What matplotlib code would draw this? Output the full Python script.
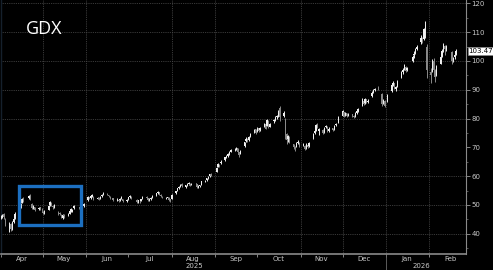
import matplotlib
matplotlib.use("Agg")
import matplotlib.pyplot as plt
import matplotlib.dates as mdates
import numpy as np
import pandas as pd
from matplotlib.patches import Rectangle
from matplotlib.transforms import blended_transform_factory

# market holidays skipped in the daily series
holidays = ["2025-04-18", "2025-05-26", "2025-06-19", "2025-07-04", "2025-09-01",
            "2025-11-27", "2025-12-25", "2026-01-01", "2026-01-19", "2026-02-16"]

# daily OHLC, one line per week
opens = [45.6, 45.8, 46.8, 45.2,
         42.0, 43.2, 41.6, 44.2, 45.5,
         48.5, 49.2, 50.8, 52.2,
         52.3, 53.4, 50.2, 49.0, 49.2,
         48.6, 49.1, 48.3, 47.6, 47.4,
         48.4, 50.0, 50.8, 49.6, 49.4,
         47.5, 47.2, 46.6, 45.5, 46.5,
         46.4, 47.0, 47.9, 48.0, 48.8,
         49.2, 49.1, 49.0, 49.5,
         51.6, 52.6, 52.5, 53.2, 52.8,
         52.2, 52.4, 52.3, 53.0, 53.8,
         53.9, 53.4, 52.9, 52.3,
         51.6, 51.8, 51.6, 52.3, 52.0,
         51.3, 52.0, 52.7, 52.8,
         51.8, 51.2, 51.4, 51.5, 52.2,
         52.9, 52.3, 51.8, 52.0, 52.6,
         53.4, 54.1, 54.4, 53.6, 52.9,
         52.3, 52.5, 52.5, 51.9, 52.2,
         54.0, 55.0, 55.7, 56.3, 57.1,
         56.3, 56.9, 57.3, 57.4, 57.0,
         57.2, 57.2, 56.2, 56.6, 57.0,
         58.1, 58.6, 59.4, 59.9, 60.8,
         61.5, 63.2, 64.0, 64.5,
         65.5, 66.8, 67.0, 67.6, 68.5,
         69.0, 69.4, 69.6, 68.2, 67.8,
         70.5, 72.2, 73.0, 72.4, 73.8,
         75.2, 76.2, 75.5, 76.6, 76.0,
         77.5, 78.2, 77.5, 79.2, 77.2,
         79.0, 79.8, 80.4, 81.0, 83.5,
         80.8, 80.0, 74.5, 72.8, 73.5,
         71.0, 70.0, 70.2, 71.4, 71.6,
         70.8, 70.6, 69.8, 70.8, 70.3,
         73.2, 74.8, 75.8, 78.0, 75.5,
         76.0, 75.2, 77.0, 77.2, 75.6,
         76.6, 76.3, 77.6, 78.5,
         81.0, 82.2, 81.2, 81.8, 81.0,
         81.4, 80.9, 80.7, 82.0, 82.7,
         84.5, 86.2, 85.3, 86.6, 85.8,
         87.8, 89.2, 89.9, 90.6,
         88.5, 85.4, 86.0, 86.0,
         89.5, 91.8, 92.2, 90.3, 91.2,
         94.5, 96.2, 97.2, 98.0, 96.8,
         100.0, 102.0, 102.8, 104.2,
         106.5, 107.8, 107.5, 111.5, 105.0,
         96.0, 96.5, 100.0, 96.5, 95.0,
         99.0, 101.8, 103.6, 105.2, 104.3,
         103.0, 100.2, 101.3, 102.4]

highs = [46.6, 47.0, 47.3, 45.5,
         44.0, 43.8, 44.5, 45.8, 47.5,
         49.8, 50.6, 52.4, 52.6,
         53.6, 53.8, 50.5, 49.9, 49.4,
         49.4, 49.3, 48.8, 47.9, 48.2,
         49.8, 51.3, 51.0, 49.9, 50.3,
         47.8, 47.6, 46.8, 46.7, 46.8,
         47.2, 48.1, 48.9, 48.6, 49.8,
         49.4, 49.3, 49.9, 50.5,
         53.1, 52.9, 53.3, 53.8, 53.0,
         52.8, 52.6, 53.1, 53.7, 54.4,
         54.1, 53.6, 53.2, 52.5,
         52.3, 52.0, 52.4, 53.0, 52.2,
         52.0, 52.9, 53.3, 53.0,
         52.0, 51.8, 51.6, 52.2, 53.1,
         53.2, 52.5, 52.5, 52.7, 53.3,
         54.3, 54.8, 54.6, 53.8, 53.1,
         52.7, 52.9, 52.7, 52.0, 53.8,
         55.0, 56.0, 56.5, 57.3, 57.5,
         57.0, 57.5, 57.9, 57.6, 57.6,
         57.7, 57.3, 56.8, 57.0, 58.4,
         58.6, 59.5, 60.0, 60.8, 61.0,
         63.0, 64.5, 64.3, 65.5,
         66.8, 67.5, 68.1, 68.6, 69.4,
         69.6, 70.2, 69.8, 68.5, 69.1,
         72.0, 73.5, 73.3, 73.8, 74.8,
         76.5, 76.4, 76.9, 76.8, 77.2,
         78.5, 78.4, 79.9, 79.4, 78.6,
         79.8, 80.9, 81.2, 82.8, 84.5,
         82.5, 80.3, 75.0, 74.3, 73.8,
         71.3, 70.6, 71.9, 72.4, 71.8,
         71.6, 70.8, 71.4, 71.2, 71.9,
         74.9, 75.9, 78.2, 78.6, 76.8,
         76.3, 77.1, 77.9, 77.4, 76.9,
         76.8, 77.8, 78.4, 80.8,
         83.0, 82.4, 82.4, 82.0, 81.9,
         81.6, 81.1, 82.1, 82.9, 83.6,
         87.0, 86.4, 87.2, 86.9, 86.6,
         89.4, 90.2, 90.6, 91.2,
         88.8, 86.6, 86.3, 88.4,
         91.9, 92.9, 92.4, 91.2, 93.2,
         96.4, 97.4, 98.9, 98.2, 97.9,
         101.9, 103.5, 104.4, 105.6,
         109.0, 108.2, 111.5, 114.0, 106.0,
         97.5, 100.5, 101.0, 97.2, 98.5,
         102.0, 104.0, 106.2, 105.6, 105.4,
         103.3, 101.4, 102.6, 104.0]

lows = [45.2, 45.5, 45.0, 42.8,
        40.5, 41.0, 41.2, 43.8, 45.2,
        47.8, 48.9, 50.5, 51.0,
        52.0, 51.6, 48.6, 48.5, 47.9,
        48.2, 48.1, 47.6, 46.8, 47.0,
        48.2, 49.7, 49.6, 48.7, 49.0,
        46.5, 46.5, 45.3, 45.2, 45.6,
        46.2, 46.8, 47.6, 47.5, 48.6,
        48.5, 48.5, 48.7, 49.2,
        51.4, 51.9, 52.2, 52.7, 51.7,
        52.0, 51.8, 52.1, 52.8, 53.5,
        53.3, 52.8, 52.0, 51.5,
        51.4, 51.1, 51.4, 52.0, 50.9,
        51.0, 51.8, 52.4, 52.1,
        50.7, 50.8, 50.8, 51.3, 52.0,
        52.2, 51.4, 51.5, 51.8, 52.4,
        53.2, 53.8, 53.5, 52.8, 52.3,
        52.0, 52.2, 51.5, 51.1, 52.0,
        53.8, 54.8, 55.4, 56.1, 56.3,
        56.0, 56.7, 57.0, 56.7, 56.8,
        56.9, 56.0, 56.0, 56.3, 56.8,
        57.8, 58.4, 59.1, 59.7, 59.9,
        61.3, 63.0, 63.2, 64.2,
        65.2, 66.4, 66.8, 67.3, 68.2,
        68.6, 69.1, 68.0, 66.8, 67.6,
        70.2, 72.0, 72.0, 72.1, 73.5,
        75.0, 74.5, 75.3, 75.4, 75.8,
        77.2, 76.2, 77.3, 76.7, 76.9,
        78.6, 79.0, 80.0, 80.6, 79.0,
        80.5, 73.0, 71.0, 72.0, 71.4,
        69.4, 68.8, 70.0, 71.0, 70.1,
        70.3, 69.0, 69.5, 69.6, 70.0,
        73.0, 74.5, 75.6, 76.6, 74.3,
        74.6, 75.0, 76.6, 75.2, 75.3,
        75.5, 76.1, 77.3, 78.3,
        80.8, 80.6, 80.9, 80.4, 80.7,
        80.6, 80.1, 80.5, 81.7, 82.4,
        84.2, 84.7, 85.1, 85.3, 85.5,
        87.5, 88.9, 89.6, 90.0,
        84.5, 85.0, 84.0, 85.8,
        89.2, 91.2, 90.1, 89.5, 91.0,
        94.2, 95.6, 96.9, 96.0, 96.4,
        99.6, 101.0, 102.4, 103.8,
        106.0, 106.2, 107.2, 108.0, 94.0,
        92.5, 96.0, 96.0, 92.8, 94.6,
        98.8, 101.2, 103.2, 102.0, 103.6,
        99.0, 99.6, 100.8, 102.0]

closes = [46.0, 46.5, 45.8, 43.5,
          42.5, 41.5, 43.5, 45.0, 47.0,
          49.5, 50.2, 52.0, 51.5,
          53.0, 52.0, 49.0, 49.5, 48.3,
          49.0, 48.5, 48.2, 47.2, 47.8,
          49.5, 51.0, 50.0, 49.2, 50.0,
          47.0, 46.8, 45.6, 46.4, 46.0,
          46.8, 47.8, 48.5, 48.2, 49.5,
          49.0, 48.8, 49.6, 50.2,
          52.8, 52.3, 53.0, 53.3, 52.0,
          52.5, 52.2, 52.9, 53.5, 54.0,
          53.6, 53.0, 52.3, 51.8,
          52.0, 51.5, 52.2, 52.8, 51.2,
          51.8, 52.6, 53.0, 52.4,
          51.0, 51.6, 51.2, 52.0, 52.8,
          52.5, 51.6, 52.2, 52.4, 53.0,
          54.0, 54.5, 53.8, 53.0, 52.6,
          52.4, 52.6, 51.8, 51.4, 53.6,
          54.8, 55.8, 56.2, 57.0, 56.6,
          56.8, 57.2, 57.6, 57.0, 57.3,
          57.4, 56.2, 56.5, 56.8, 58.2,
          58.4, 59.3, 59.8, 60.6, 60.2,
          62.8, 64.2, 63.6, 64.8,
          66.5, 67.0, 67.8, 68.3, 69.0,
          69.2, 69.8, 68.4, 67.5, 68.8,
          71.8, 73.0, 72.5, 73.5, 74.5,
          76.0, 74.8, 76.5, 75.8, 76.8,
          78.0, 76.5, 79.5, 77.0, 78.2,
          79.5, 80.2, 80.8, 82.0, 80.5,
          81.8, 74.0, 72.5, 73.8, 72.0,
          70.2, 69.8, 71.5, 72.0, 70.5,
          71.0, 69.5, 71.0, 70.0, 71.5,
          74.5, 75.5, 77.8, 77.0, 76.2,
          75.0, 76.8, 77.5, 75.5, 76.5,
          76.0, 77.5, 78.0, 80.5,
          82.5, 81.0, 82.0, 80.8, 81.5,
          81.0, 80.5, 81.8, 82.5, 83.2,
          86.5, 85.0, 86.8, 85.6, 86.2,
          89.0, 89.8, 90.2, 90.5,
          85.0, 86.2, 84.5, 88.0,
          91.5, 92.5, 90.5, 90.8, 92.8,
          96.0, 97.0, 98.5, 96.5, 97.5,
          101.5, 102.5, 104.0, 105.0,
          108.0, 107.0, 111.0, 112.5, 97.0,
          95.0, 99.5, 97.0, 94.5, 98.0,
          101.5, 103.5, 105.5, 104.0, 105.0,
          100.0, 101.0, 102.2, 103.47]

ticker = "GDX"
last_label = "103.47"
y_ticks = [40, 50, 60, 70, 80, 90, 100, 110, 120]
h_grid = [40, 50, 60, 80, 90, 100, 110, 120]
v_grid = ["2025-05-01", "2025-06-01", "2025-08-01", "2025-09-01",
          "2025-11-01", "2025-12-01", "2026-01-01", "2026-02-01"]
# highlighted consolidation box
box_start, box_end = "2025-04-13 16:00", "2025-05-27 20:00"
box_low, box_high = 42.9, 56.7

dates = pd.bdate_range("2025-04-01", "2026-02-20")
dates = dates[~dates.isin(pd.to_datetime(holidays))]
o = np.array(opens); h = np.array(highs); l = np.array(lows); c = np.array(closes)
x = mdates.date2num(dates)

plt.rcParams["font.family"] = ["DejaVu Sans"]
fig = plt.figure(figsize=(4.93, 2.70), dpi=100, facecolor="black")
ax = fig.add_axes([0.002, 1 - 254 / 270, 0.943, 254 / 270])
ax.set_facecolor("black")

up = c >= o
cols = np.where(up, "#f0f0f0", "#8a8a8a")
ax.vlines(x, l, h, colors=cols, lw=0.7, zorder=3)
ax.bar(x, np.abs(c - o), bottom=np.minimum(o, c), width=0.9, color=cols,
       linewidth=0, zorder=3)

for v in h_grid:
    ax.axhline(v, color="#4d4d4d", lw=0.6, ls=(0, (1, 1.2)), zorder=1)
for d in v_grid:
    ax.axvline(mdates.datestr2num(d), color="#4d4d4d", lw=0.6, ls=(0, (1, 1.2)), zorder=1)

bx0 = mdates.datestr2num(box_start)
bx1 = mdates.datestr2num(box_end)
ax.add_patch(Rectangle((bx0, box_low), bx1 - bx0, box_high - box_low, fill=False,
                       edgecolor="#1c6fc0", lw=2.4, zorder=5))

ax.set_xlim(mdates.datestr2num("2025-04-01"), mdates.datestr2num("2026-02-27"))
ax.set_ylim(32.95, 121.15)

# y axis on the right
ax.yaxis.tick_right()
ax.set_yticks(y_ticks)
ax.set_yticks(np.arange(35, 121, 5), minor=True)
ax.tick_params(axis="y", which="major", direction="out", length=3, width=0.6,
               color="#9a9a9a", labelcolor="#c8c8c8", labelsize=5, pad=1)
ax.tick_params(axis="y", which="minor", direction="out", length=1.5, width=0.5,
               color="#7a7a7a")

# months: boundary ticks, labels mid-month
ax.xaxis.set_major_locator(mdates.MonthLocator())
ax.xaxis.set_major_formatter(plt.NullFormatter())
ax.xaxis.set_minor_locator(mdates.MonthLocator(bymonthday=16))
ax.xaxis.set_minor_formatter(mdates.DateFormatter("%b"))
ax.tick_params(axis="x", which="major", direction="out", length=2, width=0.6,
               color="#9a9a9a")
ax.tick_params(axis="x", which="minor", length=0, labelcolor="#c8c8c8",
               labelsize=5, pad=1.5)

ax.spines["top"].set_visible(False)
ax.spines["bottom"].set_color("#8a8a8a")
ax.spines["bottom"].set_linewidth(1.2)
ax.spines["right"].set_color("#8a8a8a")
ax.spines["right"].set_linewidth(0.8)
ax.spines["left"].set_color("#15202c")
ax.spines["left"].set_linewidth(1.0)

tr = blended_transform_factory(ax.transData, ax.transAxes)
ax.text(mdates.datestr2num("2025-08-17"), -0.048, "2025", transform=tr, ha="center",
        va="center", color="#c8c8c8", fontsize=5)
ax.text(mdates.datestr2num("2026-01-26"), -0.048, "2026", transform=tr, ha="center",
        va="center", color="#c8c8c8", fontsize=5)
ax.plot([mdates.datestr2num("2026-01-01")] * 2, [0, -0.07], transform=tr,
        color="#6a6a6a", lw=0.6, clip_on=False)

ax.text(0.053, 0.885, ticker, transform=ax.transAxes, color="white", fontsize=13,
        family="Open Sans", ha="left", va="center")

tr_y = blended_transform_factory(ax.transAxes, ax.transData)
ax.text(1.006, c[-1], last_label, transform=tr_y, ha="left", va="center",
        fontsize=5, color="black",
        bbox=dict(boxstyle="square,pad=0.15", facecolor="white", edgecolor="#8a8a8a",
                  lw=0.5), zorder=10, clip_on=False)

fig.savefig("out.png", dpi=100, facecolor="black")
